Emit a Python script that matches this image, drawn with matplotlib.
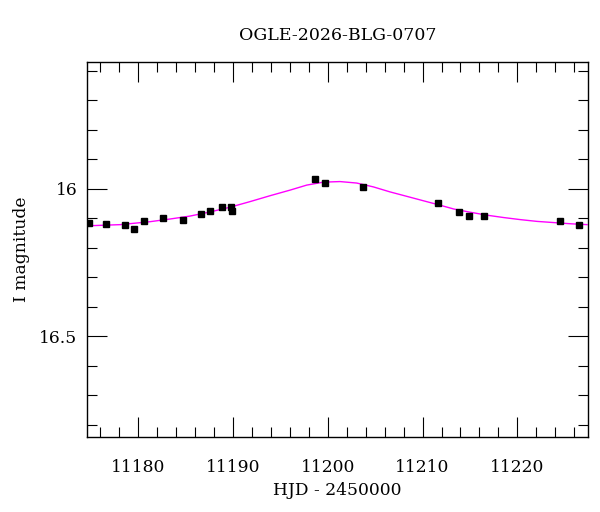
import numpy as np
import matplotlib
matplotlib.use("Agg")
import matplotlib.pyplot as plt
from matplotlib.ticker import MultipleLocator

# photometry
hjd = [11174.81, 11176.66, 11178.60, 11179.61, 11180.64, 11182.64, 11184.72,
       11186.61, 11187.63, 11188.83, 11189.84, 11189.91, 11198.63, 11199.69,
       11203.69, 11211.66, 11213.84, 11214.87, 11216.45, 11224.46, 11226.53]
mag = [16.116, 16.120, 16.122, 16.137, 16.109, 16.098, 16.106,
       16.085, 16.074, 16.061, 16.061, 16.074, 15.967, 15.980,
       15.992, 16.049, 16.077, 16.092, 16.093, 16.107, 16.123]
mag_err = [0.004] * len(hjd)

# model curve, read at regular steps along the magenta line
model_t = [11174.63, 11178.14, 11181.27, 11183.37, 11185.48, 11187.59, 11189.70,
           11191.81, 11193.92, 11196.03, 11197.79, 11199.54, 11201.30, 11203.06,
           11204.81, 11206.57, 11208.33, 11210.08, 11211.84, 11213.29, 11215.04,
           11216.80, 11218.56, 11220.31, 11222.07, 11223.83, 11225.58, 11227.34]
model_mag = [16.125, 16.121, 16.111, 16.102, 16.092, 16.078, 16.062,
             16.043, 16.023, 16.004, 15.987, 15.977, 15.975, 15.980,
             15.993, 16.010, 16.025, 16.040, 16.055, 16.068, 16.079,
             16.089, 16.097, 16.104, 16.110, 16.114, 16.118, 16.121]

event_name = "OGLE-2026-BLG-0707"

plt.rcParams['font.family'] = ['DejaVu Serif']
plt.rcParams['font.size'] = 12.3

fig = plt.figure(figsize=(6.0, 5.12), dpi=100)
ax = fig.add_axes([0.1455, 0.147, 0.834, 0.732])

ax.plot(model_t, model_mag, color='#ff00ff', lw=1.0, zorder=2)
ax.errorbar(hjd, mag, yerr=mag_err, fmt='s', color='black', ms=4,
            elinewidth=0.8, capsize=2, capthick=0.8, zorder=3)

ax.set_xlim(11174.66, 11227.41)
ax.set_ylim(16.84, 15.5695)

ax.xaxis.set_major_locator(MultipleLocator(10))
ax.xaxis.set_minor_locator(MultipleLocator(2))
ax.yaxis.set_major_locator(MultipleLocator(0.5))
ax.yaxis.set_minor_locator(MultipleLocator(0.1))
ax.yaxis.set_major_formatter(plt.FuncFormatter(lambda v, p: f"{v:g}"))

ax.tick_params(which='both', direction='in', top=True, right=True, width=0.8)
ax.tick_params(which='major', length=14.4)
ax.tick_params(which='minor', length=7.2)
ax.tick_params(axis='x', which='major', pad=16)
ax.tick_params(axis='y', which='major', pad=7)
for s in ax.spines.values():
    s.set_linewidth(1.0)

ax.set_xlabel("HJD - 2450000", labelpad=4)
ax.set_ylabel("I magnitude", labelpad=7)
ax.set_title(event_name, pad=15.5, fontsize=12.5)

fig.savefig("out.png", dpi=100)
